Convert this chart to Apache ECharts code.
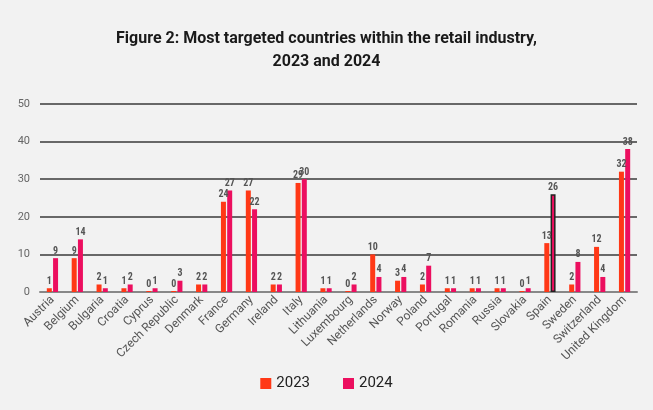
<!DOCTYPE html>
<html><head><meta charset="utf-8">
<script src="https://cdn.jsdelivr.net/npm/echarts@6/dist/echarts.min.js"></script>
<style>html,body{margin:0;padding:0;background:#f2f2f2}#c{width:653px;height:410px}</style>
</head><body><div id="c"></div>
<script>
const categories = ["Austria","Belgium","Bulgaria","Croatia","Cyprus","Czech Republic","Denmark","France","Germany","Ireland","Italy","Lithuania","Luxembourg","Netherlands","Norway","Poland","Portugal","Romania","Russia","Slovakia","Spain","Sweden","Switzerland","United Kingdom"];
const values2023 = [1,9,2,1,0,0,2,24,27,2,29,1,0,10,3,2,1,1,1,0,13,2,12,32];
const values2024 = [9,14,1,2,1,3,2,27,22,2,30,1,2,4,4,7,1,1,1,1,26,8,4,38];
const yTicks = [0,10,20,30,40,50];
const highlightIndex = 20;

const chart = echarts.init(document.getElementById('c'), null, {renderer:'canvas'});
const lbl = {show:true, position:'top', distance:2, color:'#555', fontSize:10, fontWeight:'bold', fontFamily:'Roboto Condensed, Roboto'};
chart.setOption({
  backgroundColor:'#f2f2f2',
  animation:false,
  title:{text:'Figure 2: Most targeted countries within the retail industry,\n2023 and 2024', left:'center', top:22,
    textStyle:{fontFamily:'Roboto', fontWeight:'bold', fontSize:16, color:'#1a1a1a', lineHeight:23}},
  legend:{bottom:14, left:'center', itemWidth:11, itemHeight:11, itemGap:33, icon:'rect',
    textStyle:{fontFamily:'Roboto', fontSize:15, color:'#222'}},
  grid:{left:40, right:16, top:104, bottom:118, containLabel:false},
  xAxis:{type:'category', data:categories,
    axisLine:{lineStyle:{color:'#888', width:2}}, axisTick:{show:false},
    axisLabel:{rotate:45, interval:0, color:'#555', fontFamily:'Roboto', fontSize:12, margin:6}},
  yAxis:{type:'value', min:0, max:50, interval:10,
    axisLabel:{color:'#666', fontFamily:'Roboto', fontSize:11, margin:10, align:'right'},
    axisLine:{show:false}, axisTick:{show:false},
    splitLine:{lineStyle:{color:'#3a3a3a', width:1.5}}},
  series:[
    {name:'2023', type:'bar', data:values2023, barWidth:5, barGap:'25%', barMinHeight:1,
      itemStyle:{color:'#ff3816'}, label:lbl},
    {name:'2024', type:'bar', data:values2024.map((v,i)=> i===highlightIndex ? {value:v, itemStyle:{borderColor:'#222', borderWidth:1.5}} : v),
      barWidth:5, barMinHeight:1,
      itemStyle:{color:'#ec0f5f'}, label:lbl}
  ]
});
</script></body></html>
